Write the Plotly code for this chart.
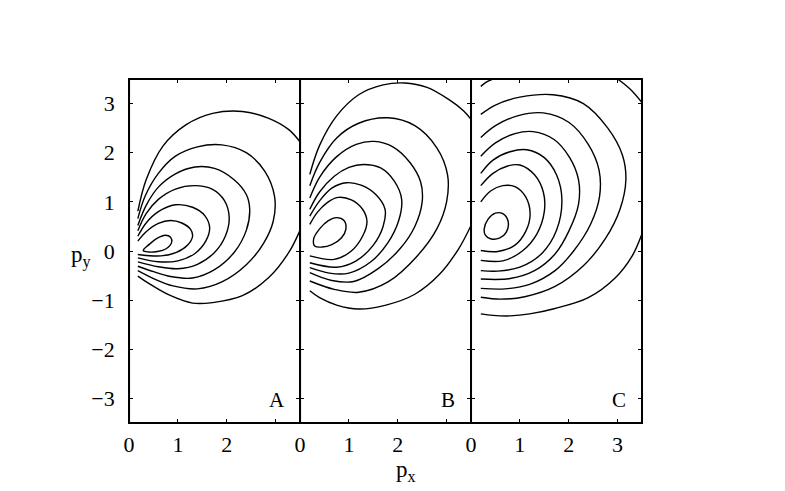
import plotly.graph_objects as go

FONT = "Liberation Serif"

# contour lines, (p_x, p_y) pairs, outer ring first

# panel A
A1_top = [(0.18, 0.81), (0.35, 1.45), (0.69, 2.13), (1.17, 2.57), (1.71, 2.80), (2.32, 2.84),
          (2.86, 2.70), (3.27, 2.47), (3.5, 2.22)]
A1_bot = [(3.5, 0.42), (3.27, -0.03), (2.86, -0.54), (2.32, -0.91), (1.71, -1.05), (1.3, -1.06),
          (0.83, -0.9), (0.42, -0.67), (0.18, -0.51)]
A2 = [(0.18, 0.66), (0.33, 1.12), (0.6, 1.58), (0.95, 1.93), (1.4, 2.12), (1.9, 2.16), (2.4, 2.0),
      (2.78, 1.62), (2.98, 1.1), (2.95, 0.6), (2.75, 0.15), (2.4, -0.28), (1.9, -0.63), (1.4, -0.77),
      (0.9, -0.71), (0.5, -0.56), (0.18, -0.40)]
A3 = [(0.18, 0.52), (0.35, 0.93), (0.6, 1.3), (0.95, 1.57), (1.35, 1.71), (1.75, 1.68), (2.15, 1.45),
      (2.4, 1.15), (2.47, 0.85), (2.4, 0.42), (2.15, -0.03), (1.75, -0.38), (1.3, -0.55), (0.85, -0.52),
      (0.5, -0.42), (0.18, -0.31)]
A4 = [(0.18, 0.41), (0.35, 0.76), (0.6, 1.05), (0.95, 1.26), (1.35, 1.33), (1.7, 1.26), (1.95, 1.03),
      (2.05, 0.68), (1.97, 0.3), (1.75, -0.03), (1.4, -0.27), (1.0, -0.36), (0.6, -0.32), (0.18, -0.22)]
A5 = [(0.18, 0.30), (0.35, 0.57), (0.6, 0.8), (0.95, 0.94), (1.3, 0.89), (1.55, 0.72), (1.65, 0.47),
      (1.57, 0.2), (1.35, -0.05), (1.0, -0.2), (0.6, -0.22), (0.18, -0.14)]
A6 = [(0.18, 0.20), (0.35, 0.39), (0.6, 0.56), (0.85, 0.62), (1.08, 0.57), (1.26, 0.44), (1.3, 0.3),
      (1.2, 0.12), (0.97, -0.03), (0.65, -0.1), (0.18, -0.07)]
A7 = [(0.29, 0.01), (0.42, 0.14), (0.58, 0.26), (0.74, 0.32), (0.85, 0.28), (0.87, 0.17), (0.75, 0.04),
      (0.58, -0.01), (0.40, -0.02), (0.29, 0.01)]

# panel B
B1_top = [(0.2, 1.56), (0.4, 2.15), (0.75, 2.75), (1.2, 3.18), (1.7, 3.38), (2.14, 3.42), (2.6, 3.33),
          (3.05, 3.08), (3.35, 2.85), (3.5, 2.68)]
B1_bot = [(3.5, 0.52), (3.25, 0.05), (2.85, -0.48), (2.35, -0.88), (1.76, -1.1), (1.2, -1.18),
          (0.75, -1.1), (0.4, -0.95), (0.2, -0.81)]
B2 = [(0.2, 1.33), (0.4, 1.8), (0.75, 2.3), (1.2, 2.6), (1.8, 2.71), (2.35, 2.55), (2.8, 2.1),
      (3.02, 1.55), (3.0, 1.0), (2.8, 0.45), (2.4, -0.1), (1.8, -0.63), (1.2, -0.84), (0.7, -0.78),
      (0.2, -0.61)]
B3 = [(0.2, 1.08), (0.4, 1.5), (0.75, 1.92), (1.15, 2.17), (1.52, 2.23), (1.9, 2.12), (2.25, 1.8),
      (2.47, 1.4), (2.5, 1.0), (2.35, 0.5), (2.05, 0.05), (1.6, -0.36), (1.1, -0.62), (0.65, -0.6),
      (0.2, -0.44)]
B4 = [(0.2, 0.85), (0.4, 1.2), (0.7, 1.52), (1.0, 1.7), (1.3, 1.76), (1.65, 1.69), (1.93, 1.42),
      (2.08, 1.05), (2.02, 0.62), (1.8, 0.17), (1.45, -0.22), (1.0, -0.45), (0.6, -0.45), (0.2, -0.34)]
B5 = [(0.2, 0.71), (0.4, 1.02), (0.65, 1.28), (0.95, 1.39), (1.25, 1.34), (1.55, 1.15), (1.74, 0.85),
      (1.7, 0.5), (1.5, 0.12), (1.15, -0.2), (0.75, -0.33), (0.2, -0.24)]
B6 = [(0.2, 0.54), (0.35, 0.78), (0.55, 0.98), (0.78, 1.09), (1.05, 1.04), (1.28, 0.85), (1.37, 0.6),
      (1.28, 0.3), (1.05, 0.0), (0.7, -0.17), (0.2, -0.10)]
B7 = [(0.3, 0.1), (0.28, 0.25), (0.4, 0.45), (0.58, 0.62), (0.75, 0.68), (0.9, 0.62), (0.94, 0.45),
      (0.85, 0.27), (0.65, 0.13), (0.45, 0.08), (0.3, 0.1)]

# panel C
C1_left = [(0.2, 3.35), (0.32, 3.44), (0.45, 3.5)]
C1_corner = [(3.0, 3.5), (3.25, 3.3), (3.5, 3.02)]
C1_bot = [(3.5, 0.35), (3.3, -0.1), (2.95, -0.55), (2.4, -0.95), (1.72, -1.17), (1.2, -1.28),
          (0.8, -1.32), (0.45, -1.31), (0.2, -1.28)]
C2 = [(0.2, 2.78), (0.5, 2.97), (1.0, 3.13), (1.68, 3.18), (2.3, 3.0), (2.8, 2.5), (3.1, 1.95),
      (3.17, 1.45), (3.05, 0.85), (2.75, 0.25), (2.3, -0.3), (1.72, -0.72), (1.1, -0.93), (0.6, -0.98),
      (0.2, -0.94)]
C3 = [(0.2, 2.31), (0.5, 2.55), (0.95, 2.75), (1.48, 2.81), (2.0, 2.62), (2.4, 2.17), (2.62, 1.65),
      (2.63, 1.1), (2.45, 0.55), (2.1, 0.0), (1.72, -0.4), (1.2, -0.68), (0.7, -0.77), (0.2, -0.76)]
C4 = [(0.2, 1.93), (0.5, 2.2), (0.9, 2.39), (1.27, 2.43), (1.7, 2.27), (2.02, 1.9), (2.2, 1.45),
      (2.2, 0.95), (2.0, 0.4), (1.72, -0.06), (1.3, -0.4), (0.8, -0.56), (0.2, -0.57)]
C5 = [(0.2, 1.58), (0.45, 1.85), (0.8, 2.02), (1.14, 2.06), (1.5, 1.9), (1.75, 1.55), (1.86, 1.05),
      (1.75, 0.42), (1.45, -0.05), (1.0, -0.33), (0.55, -0.41), (0.2, -0.40)]
C6 = [(0.2, 1.33), (0.45, 1.58), (0.75, 1.73), (1.0, 1.75), (1.3, 1.55), (1.48, 1.2), (1.5, 0.8),
      (1.35, 0.35), (1.05, 0.0), (0.65, -0.2), (0.2, -0.19)]
C7 = [(0.2, 1.0), (0.4, 1.22), (0.65, 1.33), (0.9, 1.31), (1.12, 1.1), (1.21, 0.75), (1.12, 0.4),
      (0.9, 0.12), (0.55, -0.01), (0.2, 0.01)]
C8 = [(0.27, 0.45), (0.35, 0.65), (0.5, 0.77), (0.65, 0.76), (0.76, 0.6), (0.72, 0.38), (0.58, 0.26),
      (0.4, 0.25), (0.29, 0.33), (0.27, 0.45)]

panel_labels = ["A", "B", "C"]
panel_rings = [
    [A1_top, A1_bot, A2, A3, A4, A5, A6, A7],
    [B1_top, B1_bot, B2, B3, B4, B5, B6, B7],
    [C1_left, C1_corner, C1_bot, C2, C3, C4, C5, C6, C7, C8],
]
# labelled x ticks per panel; the unlabelled tick at 3 on A and B is a minor tick
x_labelled = [[0, 1, 2], [0, 1, 2], [0, 1, 2, 3]]
x_unlabelled = [[3], [3], []]
y_ticks = [-3, -2, -1, 0, 1, 2, 3]

W, H = 785, 491
edges = [124, 296.3, 468.6, 640.9]   # panel borders in pixels
y_dom = [(H - 423) / H, (H - 79) / H]
tick_font = dict(family=FONT, size=22, color="black")

fig = go.Figure()
for i, rings in enumerate(panel_rings):
    suffix = "" if i == 0 else str(i + 1)
    for ring in rings:
        fig.add_trace(go.Scatter(
            x=[p[0] for p in ring], y=[p[1] for p in ring],
            mode="lines", line=dict(color="black", width=1.4, shape="spline"),
            xaxis="x" + suffix, yaxis="y" + suffix,
            hoverinfo="skip", showlegend=False))

    axis_common = dict(showline=True, linecolor="black", linewidth=1, mirror="allticks",
                       ticks="inside", ticklen=4, tickwidth=1, tickcolor="black",
                       showgrid=False, zeroline=False, tickfont=tick_font)
    fig.update_layout({
        "xaxis" + suffix: dict(axis_common, domain=[edges[i] / W, edges[i + 1] / W],
                               range=[0, 3.5], anchor="y" + suffix,
                               tickmode="array", tickvals=x_labelled[i],
                               minor=dict(tickmode="array", tickvals=x_unlabelled[i],
                                          ticks="inside", ticklen=4, tickwidth=1,
                                          tickcolor="black", showgrid=False),
                               ticklabelstandoff=2),
        "yaxis" + suffix: dict(axis_common, domain=y_dom, range=[-3.5, 3.5],
                               anchor="x" + suffix, tickmode="array", tickvals=y_ticks,
                               showticklabels=(i == 0), ticklabelstandoff=9),
    })
    # panel frame drawn as a shape so shared borders stay one line thick
    fig.add_shape(type="rect", xref="x" + suffix + " domain", yref="y" + suffix + " domain",
                  x0=0, x1=1, y0=0, y1=1, line=dict(color="black", width=2))
    fig.add_annotation(x=3.02, y=-3.04, xref="x" + suffix, yref="y" + suffix,
                       text=panel_labels[i], showarrow=False,
                       font=dict(family=FONT, size=21, color="black"))

fig.add_annotation(x=76 / W, y=(H - 256) / H, xref="paper", yref="paper",
                   xanchor="center", yanchor="middle",
                   text="p<sub>y</sub>", showarrow=False,
                   font=dict(family=FONT, size=23, color="black"))
fig.add_annotation(x=403 / W, y=(H - 471) / H, xref="paper", yref="paper",
                   xanchor="center", yanchor="middle",
                   text="p<sub>x</sub>", showarrow=False,
                   font=dict(family=FONT, size=23, color="black"))

fig.update_layout(width=W, height=H, margin=dict(l=0, r=0, t=0, b=0),
                  font=dict(family=FONT, color="black"),
                  paper_bgcolor="white", plot_bgcolor="white")

fig.write_html("out.html", config={"displayModeBar": False},
               post_script="document.body.style.margin = '0';")
